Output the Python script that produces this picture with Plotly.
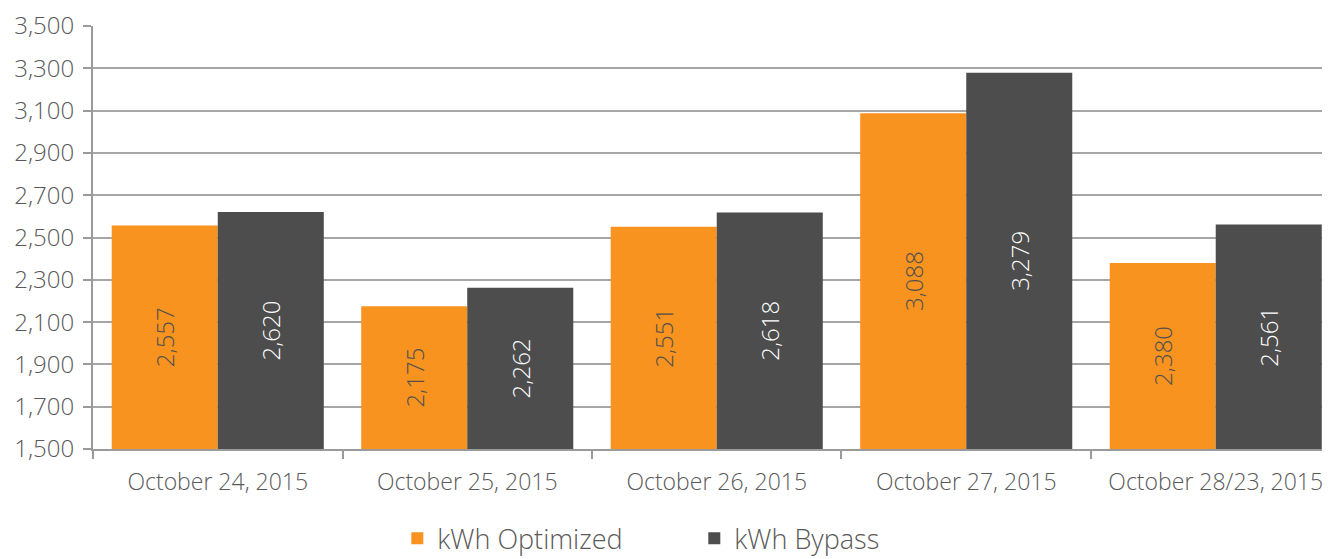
import plotly.graph_objects as go

categories = ["October 24, 2015", "October 25, 2015", "October 26, 2015",
              "October 27, 2015", "October 28/23, 2015"]
kwh_optimized = [2557, 2175, 2551, 3088, 2380]
kwh_bypass = [2620, 2262, 2618, 3279, 2561]
y_ticks = list(range(1500, 3501, 200))
y_min, y_max = 1500, 3500

FONT = "Open Sans"
TXT = "#595959"


def bar(name, values, color, text_color):
    return go.Bar(
        name=name, x=categories,
        base=[y_min] * len(values), y=[v - y_min for v in values],
        text=[f"{v:,}" for v in values], hovertext=[f"{v:,}" for v in values],
        hoverinfo="text+name",
        marker=dict(color=color, line=dict(width=0)),
        textposition="inside", insidetextanchor="middle", textangle=-90,
        textfont=dict(family=FONT, size=24, color=text_color, weight=300),
    )


fig = go.Figure()
fig.add_trace(bar("kWh Optimized", kwh_optimized, "#F7931E", "#505050"))
fig.add_trace(bar("kWh Bypass", kwh_bypass, "#4D4D4D", "white"))

fig.update_layout(
    width=1322, height=551,
    margin=dict(l=85, r=0, t=18, b=110, autoexpand=False),
    paper_bgcolor="white", plot_bgcolor="white",
    barmode="group", bargap=0.15, bargroupgap=0,
    font=dict(family=FONT, size=23, color=TXT, weight=300),
    showlegend=True,
    legend=dict(orientation="h", x=0.246, xanchor="left", y=-0.212, yanchor="middle",
                font=dict(family=FONT, size=27, color=TXT, weight=300),
                entrywidth=252, entrywidthmode="pixels", itemsizing="constant"),
)
fig.update_xaxes(
    type="category", range=[-0.5, 4.458], automargin=False,
    showline=True, linecolor="#9A9A9A", linewidth=2,
    ticks="outside", tickson="boundaries", ticklen=8, tickcolor="#9A9A9A", tickwidth=2,
    ticklabelstandoff=11,
    tickfont=dict(family=FONT, size=23, color=TXT, weight=300),
    showgrid=False,
)
fig.update_yaxes(
    range=[y_min, y_max], tickvals=y_ticks, tickformat=",", automargin=False,
    showline=True, linecolor="#9A9A9A", linewidth=2,
    ticks="outside", ticklen=8, tickcolor="#9A9A9A", tickwidth=2,
    ticklabelstandoff=4,
    showgrid=True, gridcolor="#A6A6A6", gridwidth=2,
    zeroline=False,
    tickfont=dict(family=FONT, size=24, color=TXT, weight=300),
)

fig.write_html("out.html")
